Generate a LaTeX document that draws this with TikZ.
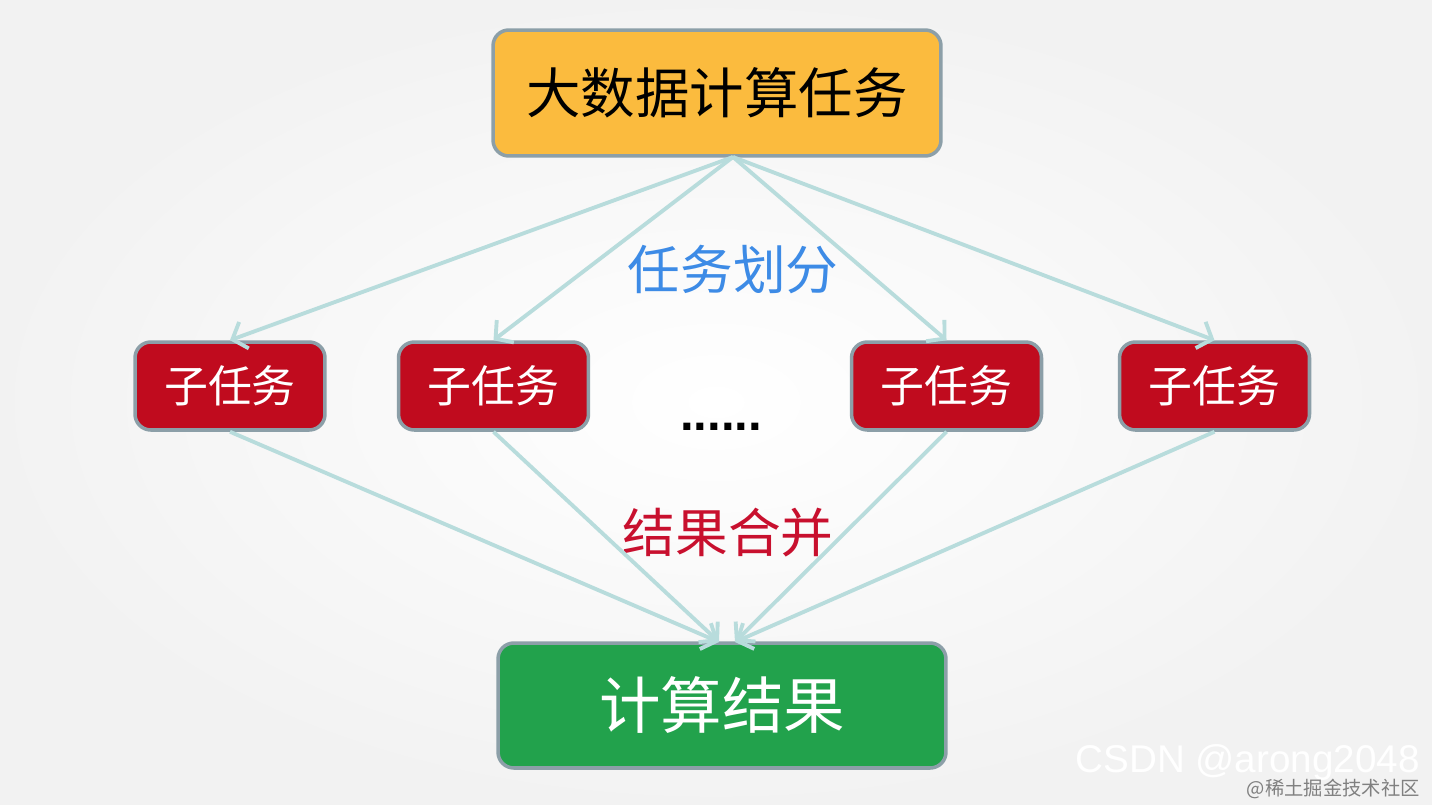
\documentclass[tikz,border=0pt]{standalone}
\usepackage{fontspec}
\newfontfamily\cjk{Noto Sans CJK SC}
\setsansfont{Liberation Sans}
\usetikzlibrary{arrows.meta}

\definecolor{taskorange}{HTML}{FBBB3E}
\definecolor{subred}{HTML}{C00B1E}
\definecolor{resgreen}{HTML}{22A24C}
\definecolor{boxedge}{HTML}{8C9FA8}
\definecolor{flowteal}{HTML}{B8DCDC}
\definecolor{splitblue}{HTML}{3D8BE6}
\definecolor{mergered}{HTML}{C8102E}

\tikzset{
  box/.style={draw=boxedge, line width=2pt, rounded corners=9pt, inner sep=0pt},
  bigtask/.style={box, fill=taskorange, minimum width=8.96cm, minimum height=2.52cm,
    font=\cjk\fontsize{31}{31}\selectfont},
  subtask/.style={box, fill=subred, text=white, minimum width=3.8cm, minimum height=1.76cm,
    font=\cjk\fontsize{25}{25}\selectfont},
  result/.style={box, fill=resgreen, text=white, minimum width=8.96cm, minimum height=2.5cm,
    font=\cjk\fontsize{35}{35}\selectfont},
  steplabel/.style={font=\cjk\fontsize{30}{30}\selectfont},
  flow/.style={draw=flowteal, line width=2.2pt, -{Straight Barb[length=7pt,width=16pt]}},
}

\begin{document}
\begin{tikzpicture}[x=0.02cm, y=-0.02cm]
% background
\useasboundingbox (0,0) rectangle (1432,804);
\shade[inner color=white, outer color=black!5] (0,0) rectangle (1432,804);

% boxes
\node[bigtask] (bigdata) at (717,93) {大数据计算任务};
\node[subtask] (sub1) at (230,386) {子任务};
\node[subtask] (sub2) at (493.5,386) {子任务};
\node[subtask] (sub3) at (946.5,386) {子任务};
\node[subtask] (sub4) at (1214.5,386) {子任务};
\node[result] (res) at (722,705.5) {计算结果};
\node[font=\sffamily\bfseries\fontsize{28}{28}\selectfont] (dots) at (721,427) {......};

% labels
\node[steplabel, text=splitblue] (split) at (733,270) {任务划分};
\node[steplabel, text=mergered] (merge) at (728,533) {结果合并};

% connectors
\coordinate (fork) at (733,157);
\coordinate (joinL) at (719,642);
\coordinate (joinR) at (735,642);
\foreach \s in {sub1,sub2,sub3,sub4}
  \draw[flow] (fork) -- (\s.north);
\draw[flow] (sub1.south) -- (joinL);
\draw[flow] (sub2.south) -- (joinL);
\draw[flow] (sub3.south) -- (joinR);
\draw[flow] (sub4.south) -- (joinR);

% watermarks
\node[font=\sffamily\fontsize{22}{22}\selectfont, text=white, anchor=east] (csdn) at (1426,762) {CSDN @arong2048};
\node[font=\cjk\fontsize{11}{11}\selectfont, text=black!50, anchor=east] (juejin) at (1426,789) {@稀土掘金技术社区};
\end{tikzpicture}
\end{document}
